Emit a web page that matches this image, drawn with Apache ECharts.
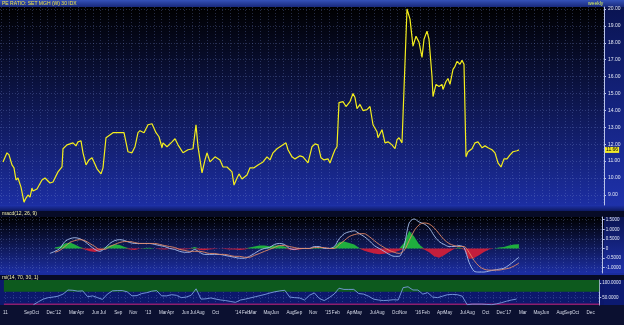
<!DOCTYPE html>
<html><head><meta charset="utf-8">
<script src="https://cdn.jsdelivr.net/npm/echarts@6/dist/echarts.min.js"></script>
<style>html,body{margin:0;padding:0;background:#000;}#c{width:624px;height:325px;}</style>
</head><body><div id="c"></div>
<script>
const TITLE = 'PE RATIO: SET MGH (W) 30 IDX';
const PERIOD = 'weekly';
const MACD_TITLE = 'macd(12, 26, 9)';
const RSI_TITLE = 'rsi(14, 70, 30, 1)';
const X_MIN = '2011-05-26';
const X_MAX = '2018-01-05';

const priceDates = [
'2011-06-07','2011-06-23','2011-07-01','2011-07-13','2011-07-21','2011-07-29','2011-08-06','2011-08-18','2011-08-30','2011-09-07',
'2011-09-15','2011-09-23','2011-10-01','2011-10-05','2011-10-21','2011-10-29','2011-11-10','2011-11-22','2011-12-12','2011-12-24',
'2012-01-13','2012-01-29','2012-02-02','2012-02-18','2012-03-01','2012-03-13','2012-03-25','2012-04-02','2012-04-14','2012-04-22',
'2012-05-04','2012-05-16','2012-05-28','2012-06-05','2012-06-17','2012-06-25','2012-07-03','2012-07-11','2012-07-23','2012-07-31',
'2012-08-20','2012-09-17','2012-10-03','2012-10-11','2012-10-19','2012-11-04','2012-11-16','2012-11-28','2012-12-06','2012-12-22',
'2013-01-07','2013-01-23','2013-01-31','2013-02-08','2013-02-20','2013-03-04','2013-03-08','2013-03-24','2013-04-13','2013-04-25',
'2013-05-07','2013-05-15','2013-05-27','2013-06-16','2013-07-06','2013-07-18','2013-07-26','2013-08-11','2013-08-23','2013-08-31',
'2013-09-12','2013-10-02','2013-10-22','2013-11-03','2013-11-19','2013-12-09','2013-12-17','2013-12-29','2014-01-06','2014-01-18',
'2014-02-07','2014-02-19','2014-03-07','2014-03-23','2014-04-12','2014-04-28','2014-05-10','2014-05-22','2014-06-07','2014-06-19',
'2014-07-01','2014-07-13','2014-07-21','2014-08-06','2014-08-18','2014-09-07','2014-09-19','2014-10-09','2014-10-25','2014-11-06',
'2014-11-18','2014-11-30','2014-12-12','2014-12-28','2015-01-05','2015-01-17','2015-01-25','2015-02-02','2015-02-10','2015-02-26',
'2015-03-10','2015-03-26','2015-04-07','2015-04-15','2015-04-23','2015-05-05','2015-05-17','2015-06-02','2015-06-14','2015-06-26',
'2015-07-12','2015-07-16','2015-08-01','2015-08-13','2015-08-25','2015-09-10','2015-09-22','2015-09-30','2015-10-08','2015-10-20',
'2015-11-09','2015-11-21','2015-12-03','2015-12-15','2015-12-27','2016-01-08','2016-01-16','2016-01-28','2016-02-05','2016-02-17',
'2016-02-21','2016-03-04','2016-03-16','2016-03-28','2016-04-01','2016-04-13','2016-04-21','2016-04-29','2016-05-11','2016-05-19',
'2016-05-27','2016-06-08','2016-06-16','2016-06-24','2016-07-02','2016-07-10','2016-07-26','2016-08-07','2016-08-19','2016-09-04',
'2016-09-16','2016-09-28','2016-10-14','2016-10-26','2016-11-07','2016-11-19','2016-12-01','2016-12-13','2016-12-25','2017-01-06',
'2017-01-22','2017-01-30'
];
const priceValues = [
10.95,11.49,11.37,10.77,10.60,9.88,10.00,9.46,8.57,8.81,
8.99,8.87,9.40,9.23,9.35,9.29,9.88,10.00,9.70,9.76,
10.36,10.65,11.73,11.96,12.02,12.08,11.90,12.14,12.20,11.49,
10.77,11.07,11.19,10.95,10.54,10.48,10.24,10.60,12.38,12.44,
12.68,12.68,12.68,12.74,11.55,11.49,11.85,12.68,12.80,12.68,
13.15,13.21,13.15,12.68,12.44,11.79,12.08,11.85,12.14,12.32,
11.96,11.85,11.49,11.67,11.73,13.15,11.85,10.30,11.07,11.49,
10.95,11.25,11.07,10.65,10.65,10.36,9.58,10.00,10.24,9.94,
10.18,10.60,10.60,10.77,10.95,11.25,11.07,11.49,11.73,11.85,
11.96,12.08,11.67,11.25,11.13,11.31,11.25,10.89,11.85,12.02,
11.96,11.19,11.07,11.13,10.89,11.37,11.67,11.85,14.46,14.52,
14.23,14.52,15.00,14.76,14.11,14.35,13.99,14.05,14.23,13.15,
12.74,12.38,12.86,12.08,12.14,11.96,11.73,12.26,12.38,12.08,
20.00,19.40,17.80,18.39,18.04,17.14,18.21,18.69,18.21,16.01,
14.82,15.54,15.42,15.54,15.24,15.71,15.89,15.54,16.43,16.61,
16.90,16.73,16.96,16.73,11.25,11.55,11.73,12.08,12.14,11.79,
11.90,11.79,11.67,11.49,10.89,10.65,11.13,11.13,11.37,11.55,
11.61,11.66
];
const priceTicks = [9,10,11,12,13,14,15,16,17,18,19,20];

const indDates = [
'2011-09-23','2011-10-13','2011-11-02','2011-11-22','2011-12-12',
'2012-01-01','2012-01-21','2012-02-10','2012-03-01','2012-03-21','2012-04-10','2012-04-30','2012-05-20','2012-06-09','2012-06-29',
'2012-07-19','2012-08-08','2012-08-28','2012-09-17','2012-10-07','2012-10-27','2012-11-16','2012-12-06','2012-12-26',
'2013-01-15','2013-02-04','2013-02-24','2013-03-16','2013-04-05','2013-04-25','2013-05-15','2013-06-04','2013-06-24',
'2013-07-14','2013-08-03','2013-08-23','2013-09-12','2013-10-02','2013-10-22','2013-11-11','2013-12-01','2013-12-21',
'2014-01-10','2014-01-30','2014-02-19','2014-03-11','2014-03-31','2014-04-20','2014-05-10','2014-05-30','2014-06-19',
'2014-07-09','2014-07-29','2014-08-18','2014-09-07','2014-09-27','2014-10-17','2014-11-06','2014-11-26','2014-12-16',
'2015-01-05','2015-01-25','2015-02-14','2015-03-06','2015-03-26','2015-04-15','2015-05-05','2015-05-25','2015-06-14','2015-07-04',
'2015-07-24','2015-08-13','2015-09-02','2015-09-22','2015-10-12','2015-11-01','2015-11-21','2015-12-11','2015-12-31',
'2016-01-20','2016-02-09','2016-02-29','2016-03-20','2016-04-09','2016-04-29','2016-05-19','2016-06-08','2016-06-28',
'2016-07-18','2016-08-07','2016-08-27','2016-09-16','2016-10-06','2016-10-26','2016-11-15','2016-12-05','2016-12-25',
'2017-01-14','2017-02-03'
];
const macdValues = [
null,null,null,null,
-0.26,-0.15,0,0.36,0.51,0.56,0.51,0.36,0.15,-0.05,
-0.15,0,0.26,0.41,0.46,0.41,0.31,0.26,0.26,0.26,
0.26,0.21,0.15,0.10,0,-0.05,-0.15,-0.2,-0.2,-0.05,
-0.2,-0.31,-0.31,-0.31,-0.31,-0.36,-0.41,-0.46,-0.51,-0.51,
-0.41,-0.26,-0.1,0,0.05,0.21,0.26,0.21,0,-0.05,
0,0,0,0.1,0.1,0,0,0.1,0.51,0.77,
0.87,0.92,0.77,0.62,0.41,0.15,0,-0.15,-0.31,-0.41,
-0.41,0.15,1.33,1.54,1.38,1.28,1.08,0.67,0.36,0.21,
0.1,0.1,0.15,0.05,-0.72,-1.18,-1.23,-1.23,-1.18,-1.13,
-1.08,-1.03,-0.87,-0.67,-0.46
];
const signalValues = [
null,null,null,null,null,
-0.2,-0.1,0.1,0.31,0.41,0.46,0.41,0.26,0.1,-0.05,
-0.05,0.1,0.21,0.31,0.36,0.36,0.31,0.26,0.26,0.26,
0.26,0.21,0.15,0.1,0.05,-0.05,-0.1,-0.15,-0.15,-0.15,
-0.2,-0.26,-0.26,-0.31,-0.31,-0.36,-0.41,-0.41,-0.46,-0.46,
-0.36,-0.26,-0.15,-0.05,0.05,0.15,0.15,0.1,0.05,0,
0,0,0.05,0.05,0.05,0,0,0.21,0.41,0.62,
0.72,0.77,0.77,0.62,0.41,0.21,0.05,-0.1,-0.2,-0.26,
-0.1,0.41,0.92,1.23,1.33,1.28,1.08,0.77,0.46,0.26,
0.15,0.1,0.1,-0.2,-0.62,-0.92,-1.08,-1.13,-1.13,-1.13,
-1.08,-1.03,-0.92,-0.77
];
const histValues = [
null,null,null,null,null,
0.05,0.1,0.26,0.31,0.2,0.08,-0.05,-0.15,-0.18,-0.12,
0.05,0.16,0.2,0.18,0.08,-0.05,-0.08,-0.02,0.02,0.04,
0,-0.04,-0.05,-0.03,-0.02,-0.05,-0.05,-0.03,0.08,-0.08,
-0.1,-0.05,-0.03,0,-0.03,-0.05,-0.05,-0.08,-0.05,0.05,
0.1,0.15,0.15,0.12,0.15,0.15,0.1,-0.05,-0.1,-0.05,
-0.02,0,0.04,0.04,-0.02,-0.02,0.08,0.33,0.36,0.28,
0.2,0.02,-0.12,-0.2,-0.26,-0.3,-0.28,-0.22,-0.2,-0.12,
0.3,0.92,0.62,0.2,-0.05,-0.2,-0.41,-0.48,-0.35,-0.18,
-0.03,0.05,-0.05,-0.55,-0.5,-0.35,-0.18,-0.05,0,0.05,
0.08,0.15,0.2,0.22
];
const macdTicks = [-1,-0.5,0,0.5,1,1.5];
const rsiValues = [
26,36,45,50,52,55,62,76,75,72,
73,53,56,50,44,62,73,74,74,70,
56,57,64,67,72,74,56,56,60,58,
50,52,58,80,45,46,49,45,42,40,
37,34,42,45,49,53,57,61,66,70,
73,75,52,50,49,42,58,66,47,40,
50,62,82,78,78,78,64,62,55,45,
42,40,41,43,42,84,87,76,76,62,
67,52,50,55,60,61,60,55,26,28,
28,28,27,26,29,33,38,42,45
];
const rsiTicks = [50,100];
const rsiUpper = 70, rsiLower = 30;

const xLabelDates = ['2011-06-01','2011-09-01','2011-10-01','2011-12-01','2012-01-01','2012-03-01','2012-04-01','2012-06-01','2012-07-01','2012-09-01','2012-11-01',
'2013-01-01','2013-03-01','2013-04-01','2013-06-01','2013-07-01','2013-08-01','2013-10-01','2014-01-01','2014-02-01','2014-03-01','2014-05-01','2014-06-01','2014-08-01','2014-09-01','2014-11-01',
'2015-01-01','2015-02-01','2015-04-01','2015-05-01','2015-07-01','2015-08-01','2015-10-01','2015-11-01','2016-01-01','2016-02-01','2016-04-01','2016-05-01','2016-07-01','2016-08-01','2016-10-01','2016-12-01',
'2017-01-01','2017-03-01','2017-05-01','2017-06-01','2017-08-01','2017-09-01','2017-10-01','2017-12-01'];
const xLabelTexts = ['11','Sep','Oct','Dec',"'12",'Mar','Apr','Jun','Jul','Sep','Nov',
"'13",'Mar','Apr','Jun','Jul','Aug','Oct',"'14",'Feb','Mar','May','Jun','Aug','Sep','Nov',
"'15",'Feb','Apr','May','Jul','Aug','Oct','Nov',"'16",'Feb','Apr','May','Jul','Aug','Oct','Dec',
"'17",'Mar','May','Jun','Aug','Sep','Oct','Dec'];

const P = s => echarts.time.parse(s).getTime();
const xmin = P(X_MIN), xmax = P(X_MAX);
const monthTicks = [];
for (let y = 2011; y <= 2018; y++) for (let m = 1; m <= 12; m++) {
  const t = P(y + '-' + String(m).padStart(2, '0') + '-01');
  if (t > xmin && t < xmax) monthTicks.push(t);
}
const labelTicks = xLabelDates.map(P);
const labelMap = {};
labelTicks.forEach((t, i) => { labelMap[t] = xLabelTexts[i]; });

const FONT = 'Liberation Sans';
const gridStyle = { color: 'rgba(120,140,210,0.30)', type: [1, 2], width: 1 };
const vGrad = (a, b) => new echarts.graphic.LinearGradient(0, 0, 0, 1, [{offset: 0, color: a}, {offset: 1, color: b}]);

const chart = echarts.init(document.getElementById('c'), null, {renderer: 'canvas', width: 624, height: 325});

const grids = [
  {left: 0, top: 7, width: 604, height: 198},
  {left: 0, top: 217, width: 604, height: 56},
  {left: 0, top: 280, width: 604, height: 25}
];

const xAxes = grids.map((g, i) => ({
  type: 'value', gridIndex: i, min: xmin, max: xmax, scale: true,
  axisLine: {show: false},
  axisTick: {show: false, customValues: monthTicks},
  axisLabel: i === 2 ? {
    show: true, customValues: labelTicks, formatter: v => labelMap[v] || '',
    color: '#d8dcea', fontSize: 4.6, fontFamily: FONT, margin: 5, hideOverlap: false
  } : {show: false},
  splitLine: {show: true, lineStyle: gridStyle}
}));

const axisLineStyle = {color: '#b8c2e8', width: 1};
const yAxes = [
  {type: 'value', gridIndex: 0, position: 'right', min: 8.4, max: 20.12,
   axisLine: {show: true, lineStyle: axisLineStyle},
   axisTick: {show: true, customValues: priceTicks, length: 2, lineStyle: axisLineStyle},
   axisLabel: {customValues: priceTicks, formatter: v => v.toFixed(2), color: '#e4e8f4', fontSize: 5, fontFamily: FONT, margin: 4},
   splitLine: {show: true, lineStyle: gridStyle}},
  {type: 'value', gridIndex: 1, position: 'right', min: -1.28, max: 1.64,
   axisLine: {show: true, lineStyle: axisLineStyle},
   axisTick: {show: true, customValues: macdTicks, length: 2, lineStyle: axisLineStyle},
   axisLabel: {customValues: macdTicks, formatter: v => v === 0 ? '0' : v.toFixed(4), color: '#e4e8f4', fontSize: 4.5, fontFamily: FONT, margin: 3},
   splitLine: {show: true, lineStyle: gridStyle}},
  {type: 'value', gridIndex: 2, position: 'right', min: 25, max: 110,
   axisLine: {show: true, lineStyle: axisLineStyle},
   axisTick: {show: true, customValues: rsiTicks, length: 2, lineStyle: axisLineStyle},
   axisLabel: {customValues: rsiTicks, formatter: v => v.toFixed(4), color: '#e4e8f4', fontSize: 4.5, fontFamily: FONT, margin: 3},
   splitLine: {show: true, lineStyle: gridStyle}}
];

const lastPrice = priceValues[priceValues.length - 1];
const clampPos = v => v == null ? null : Math.max(v, 0);
const clampNeg = v => v == null ? null : Math.min(v, 0);

const series = [
  {type: 'line', xAxisIndex: 0, yAxisIndex: 0, symbol: 'none', z: 5,
   data: priceDates.map((d, i) => [P(d), priceValues[i]]),
   lineStyle: {color: '#f4ee1c', width: 1.2},
   markLine: {silent: true, symbol: 'none', animation: false,
     data: [{yAxis: lastPrice}],
     lineStyle: {color: 'rgba(0,0,0,0)', width: 0},
     label: {show: true, position: 'end', distance: 1, formatter: lastPrice.toFixed(2), color: '#000', backgroundColor: '#f2ea2a',
             fontSize: 5, fontFamily: FONT, padding: [1, 1, 0, 1]}}},
  {type: 'line', xAxisIndex: 1, yAxisIndex: 1, symbol: 'none', z: 3,
   data: indDates.map((d, i) => [P(d), clampPos(histValues[i])]),
   lineStyle: {width: 0, color: '#1fae3e'}, itemStyle: {color: '#1fae3e'}, areaStyle: {color: '#1fae3e', opacity: 1}},
  {type: 'line', xAxisIndex: 1, yAxisIndex: 1, symbol: 'none', z: 3,
   data: indDates.map((d, i) => [P(d), clampNeg(histValues[i])]),
   lineStyle: {width: 0, color: '#c41e3c'}, itemStyle: {color: '#c41e3c'}, areaStyle: {color: '#c41e3c', opacity: 1}},
  {type: 'line', xAxisIndex: 1, yAxisIndex: 1, symbol: 'none', z: 4, smooth: 0.3,
   data: indDates.map((d, i) => [P(d), macdValues[i]]),
   lineStyle: {color: '#a9c2ee', width: 0.9}},
  {type: 'line', xAxisIndex: 1, yAxisIndex: 1, symbol: 'none', z: 4, smooth: 0.3,
   data: indDates.map((d, i) => [P(d), signalValues[i]]),
   lineStyle: {color: '#e48a64', width: 0.9}},
  {type: 'line', xAxisIndex: 2, yAxisIndex: 2, symbol: 'none', z: 4,
   data: indDates.map((d, i) => [P(d), rsiValues[i]]),
   lineStyle: {color: '#7c9ee0', width: 0.9},
   markArea: {silent: true, animation: false,
     data: [
       [{yAxis: rsiUpper, itemStyle: {color: '#0d5a1e'}}, {yAxis: 110}],
       [{yAxis: 25, itemStyle: {color: '#8c1d6e'}}, {yAxis: rsiLower}]
     ]}}
];

const textStyle = (t, x, y, fill, size) => ({type: 'text', x, y, z: 20, style: {text: t, fill, font: size + 'px ' + FONT}});

const graphic = [
  {type: 'rect', z: -10, shape: {x: 0, y: 0, width: 624, height: 7}, style: {fill: vGrad('#3552b8', '#18287a')}},
  {type: 'rect', z: -10, shape: {x: 0, y: 7, width: 604, height: 198}, style: {fill: vGrad('#000000', '#1c2ea2')}},
  {type: 'rect', z: -10, shape: {x: 604, y: 7, width: 20, height: 198}, style: {fill: vGrad('#0a1452', '#1e31aa')}},
  {type: 'rect', z: -10, shape: {x: 0, y: 205, width: 624, height: 6}, style: {fill: vGrad('#1f33ac', '#0e1a62')}},
  {type: 'rect', z: -10, shape: {x: 0, y: 211, width: 624, height: 6}, style: {fill: '#070b26'}},
  {type: 'rect', z: -10, shape: {x: 0, y: 217, width: 604, height: 56}, style: {fill: vGrad('#000000', '#1c2ea2')}},
  {type: 'rect', z: -10, shape: {x: 604, y: 217, width: 20, height: 56}, style: {fill: vGrad('#0a1452', '#1e31aa')}},
  {type: 'rect', z: -10, shape: {x: 0, y: 273, width: 624, height: 2}, style: {fill: '#1a2c9c'}},
  {type: 'rect', z: -10, shape: {x: 0, y: 275, width: 624, height: 5}, style: {fill: '#070b26'}},
  {type: 'rect', z: -10, shape: {x: 0, y: 280, width: 604, height: 25}, style: {fill: '#0c186c'}},
  {type: 'rect', z: -10, shape: {x: 604, y: 280, width: 20, height: 25}, style: {fill: '#0c1a70'}},
  {type: 'rect', z: -10, shape: {x: 0, y: 305, width: 624, height: 20}, style: {fill: '#0b1030'}},
  textStyle(TITLE, 2, 1, '#f0e44a', 5),
  textStyle(PERIOD, 588, 1, '#d8ee5a', 5),
  textStyle(MACD_TITLE, 2, 211.5, '#f2eeb0', 5),
  textStyle(RSI_TITLE, 2, 275, '#f2eeb0', 5)
];

chart.setOption({
  backgroundColor: '#000',
  animation: false,
  grid: grids,
  xAxis: xAxes,
  yAxis: yAxes,
  series,
  graphic
});
</script>
</body></html>
